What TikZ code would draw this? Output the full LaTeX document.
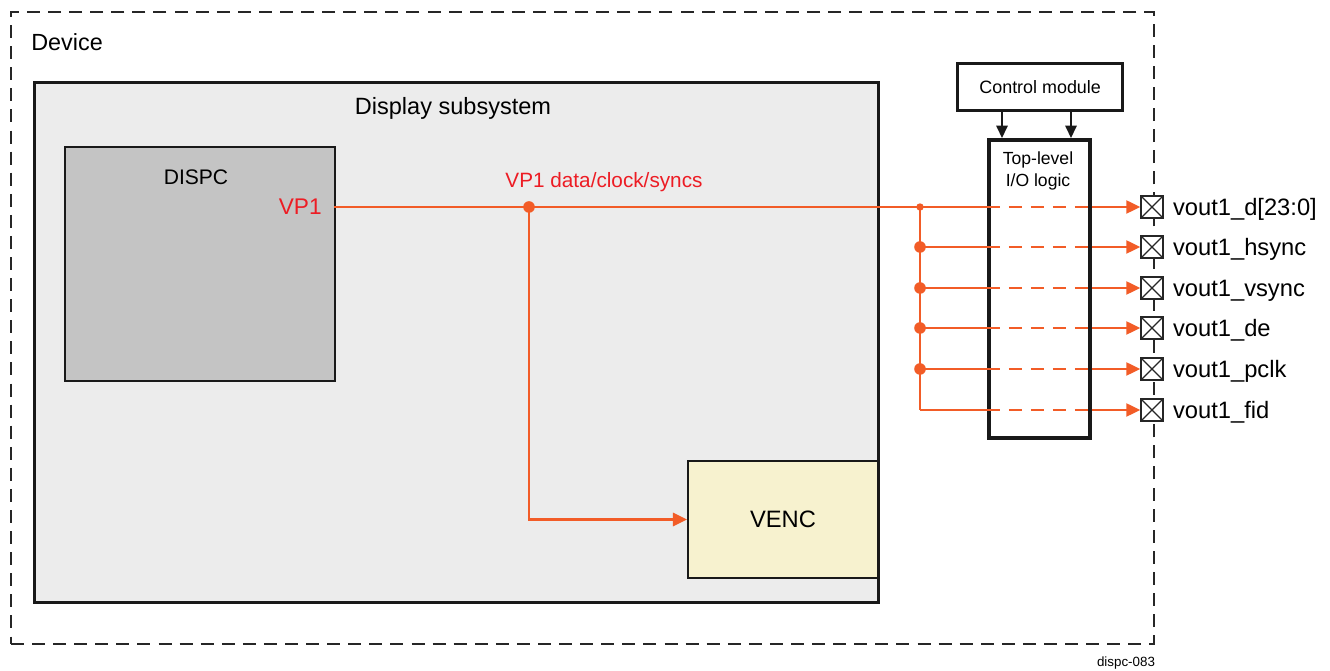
\documentclass[tikz,border=0pt]{standalone}
\usepackage{fontspec}
\setmainfont{Liberation Sans}
\usepackage{tikz}
\usetikzlibrary{arrows.meta,positioning}
\definecolor{sigorange}{RGB}{242,92,39}
\definecolor{sigred}{RGB}{237,28,36}
\definecolor{dssgray}{RGB}{236,236,236}
\definecolor{dispcgray}{RGB}{196,196,196}
\definecolor{vencyel}{RGB}{247,242,207}
\tikzset{
  blk/.style={draw=black!90,line width=1.9pt,anchor=north west,inner sep=0pt},
  dev/.style={draw=black!85,line width=1.1pt,dash pattern=on 7.4pt off 4.6pt,anchor=north west,inner sep=0pt},
  sig/.style={draw=sigorange,line width=1.4pt},
  br/.style={draw=sigorange,line width=1.05pt},
  brd/.style={br,dash pattern=on 7.5pt off 5pt},
  sar/.style={-{Triangle[length=8pt,width=7.5pt]}},
  car/.style={draw=black!90,line width=0.8pt,-{Triangle[length=7pt,width=6.5pt]}},
  jd/.style={circle,fill=sigorange,inner sep=0pt,minimum size=6.6pt},
  pad/.style={draw=black!85,fill=white,line width=0.8pt,minimum size=0.44cm,inner sep=0pt,
    path picture={\draw[black!85,line width=0.7pt] (path picture bounding box.north west) -- (path picture bounding box.south east)
      (path picture bounding box.south west) -- (path picture bounding box.north east);}},
  pl/.style={font=\fontsize{13.5}{15}\selectfont,inner sep=0pt,text height=9.6pt,text depth=0pt},
  txt/.style={inner sep=0pt}
}

\begin{document}
\begin{tikzpicture}[x=0.02cm,y=-0.02cm]
\useasboundingbox (0,0) rectangle (1330,671);
\node[dev,minimum width=22.86cm,minimum height=12.64cm] (devbox) at (10,11) {};
\node[txt,anchor=west,font=\fontsize{13.3}{15}\selectfont] (devt) at (31,42) {Device};
\node[blk,fill=dssgray,minimum width=16.88cm,minimum height=10.4cm] (dss) at (33,81) {};
\node[txt,font=\fontsize{13.4}{15}\selectfont] (dsst) at (453,108) {Display subsystem};
\node[blk,fill=dispcgray,line width=1.2pt,minimum width=5.4cm,minimum height=4.68cm] (dispc) at (64,146) {};
\node[txt,font=\fontsize{12}{14}\selectfont] (dispct) at (196,177) {DISPC};
\node[txt,anchor=east,text=sigred,font=\fontsize{12.9}{15}\selectfont] (vp1t) at (322,207) {VP1};
\node[blk,fill=vencyel,line width=1.2pt,minimum width=3.8cm,minimum height=2.34cm,font=\fontsize{13.5}{15}\selectfont] (venc) at (687,460) {VENC};
\node[blk,fill=white,minimum width=3.3cm,minimum height=0.94cm,font=\fontsize{10.2}{12}\selectfont] (ctrl) at (956,62) {Control module};
\node[blk,fill=white,line width=2.1pt,minimum width=2.02cm,minimum height=5.96cm] (iol) at (987,138) {};
\node[txt,align=center,font=\fontsize{10}{12}\selectfont] (iolt) at (1038,171) {Top-level\\I/O logic};
\node[txt,text=sigred,font=\fontsize{11.8}{13}\selectfont] (bust) at (604,182) {VP1 data/clock/syncs};
\node[txt,font=\fontsize{7.6}{9}\selectfont] (fig) at (1126,663) {dispc-083};

\coordinate (vp1) at (334,207); \coordinate (j1) at (529,207); \coordinate (bus) at (920,207);
\draw[car] (ctrl.south -| 1002,0) -- (iol.north -| 1002,0);
\draw[car] (ctrl.south -| 1071,0) -- (iol.north -| 1071,0);

\foreach \i/\y/\n in {1/207/d[23:0],2/247/hsync,3/288/vsync,4/328/de,5/369/pclk,6/410/fid}{
  \node[pad] (p\i) at (1152,\y) {};
  \node[pl,anchor=west,right=0.18cm of p\i] (pl\i) {vout1\_\n};
  \draw[br] (bus |- p\i) -- (iol.west |- p\i);
  \draw[brd] (iol.west |- p\i) -- (iol.east |- p\i);
  \draw[br,sar] (iol.east |- p\i) -- (p\i.west);
}
\draw[sig] (vp1) -- (bus); \draw[sig] (bus) -- (bus |- p6);
\draw[sig,sar] (j1) |- (venc.west);
\node[jd] (j1d) at (j1) {}; \node[jd,minimum size=4.2pt] (busd) at (bus) {};
\foreach \i in {2,...,5} \node[jd] (bd\i) at (bus |- p\i) {};
\end{tikzpicture}
\end{document}
